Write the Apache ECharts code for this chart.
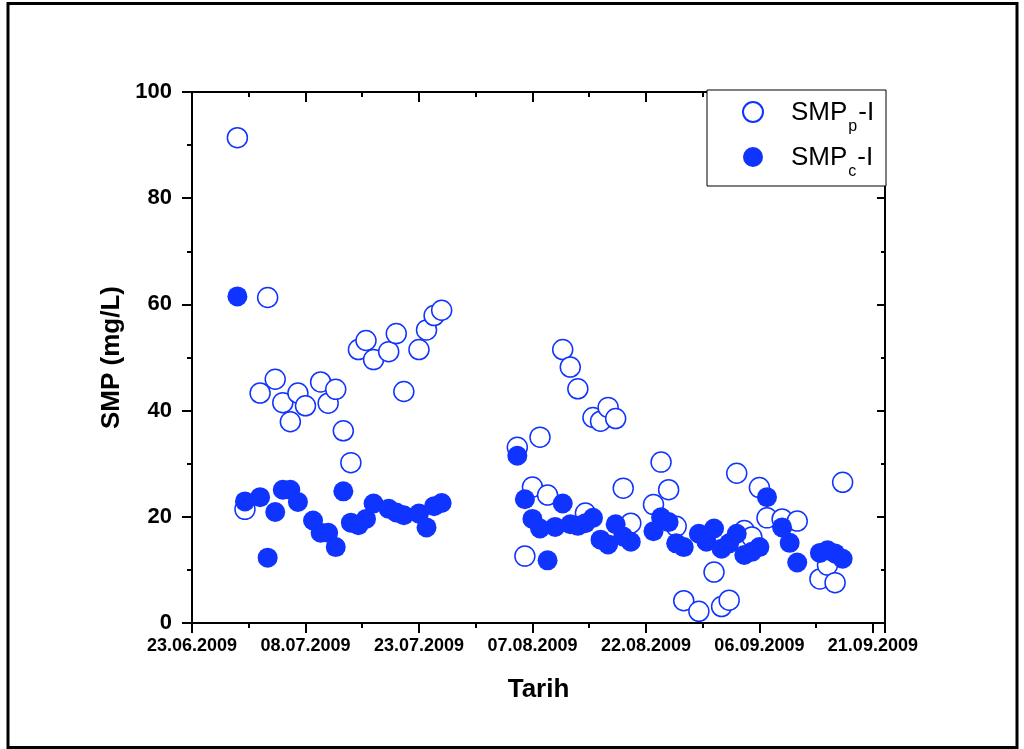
<!DOCTYPE html>
<html>
<head>
<meta charset="utf-8">
<script src="https://cdn.jsdelivr.net/npm/echarts@6/dist/echarts.min.js"></script>
<style>
html,body{margin:0;padding:0;background:#fff;}
#chart{width:1024px;height:749px;}
</style>
</head>
<body>
<div id="chart"></div>
<script>
// ---- Data ----
const startDate = '2009-06-23';
const xTickLabelsStep = 15; // days between date ticks
const seriesNames = ['SMPp-I', 'SMPc-I'];

const smpPDates = ['2009-06-29','2009-06-30','2009-07-02','2009-07-03','2009-07-04','2009-07-05','2009-07-06','2009-07-07','2009-07-08',
  '2009-07-10','2009-07-11','2009-07-12','2009-07-13','2009-07-14','2009-07-15','2009-07-16','2009-07-17','2009-07-19','2009-07-20',
  '2009-07-21','2009-07-23','2009-07-24','2009-07-25','2009-07-26',
  '2009-08-05','2009-08-06','2009-08-07','2009-08-08','2009-08-09','2009-08-11','2009-08-12','2009-08-13','2009-08-14','2009-08-15',
  '2009-08-16','2009-08-17','2009-08-18','2009-08-19','2009-08-20','2009-08-23','2009-08-24','2009-08-25','2009-08-26','2009-08-27',
  '2009-08-29','2009-08-31','2009-09-01','2009-09-02','2009-09-03','2009-09-04','2009-09-05','2009-09-06','2009-09-07','2009-09-09',
  '2009-09-11','2009-09-14','2009-09-15','2009-09-16','2009-09-17'];
const smpPValues = [91.4,21.4,43.3,61.3,45.9,41.5,37.9,43.3,40.9,
  45.4,41.4,44.0,36.2,30.2,51.5,53.2,49.6,51.1,54.5,
  43.6,51.5,55.2,57.9,58.9,
  33.1,12.6,25.6,35.0,24.1,51.5,48.2,44.1,20.7,38.7,
  38.0,40.6,38.5,25.4,18.8,22.3,30.3,25.1,18.2,4.2,
  2.2,9.6,3.1,4.3,28.2,17.4,16.2,25.5,19.8,19.6,
  19.2,8.3,10.9,7.6,26.5];

const smpCDates = ['2009-06-29','2009-06-30','2009-07-02','2009-07-03','2009-07-04','2009-07-05','2009-07-06','2009-07-07',
  '2009-07-09','2009-07-10','2009-07-11','2009-07-12','2009-07-13','2009-07-14','2009-07-15','2009-07-16','2009-07-17',
  '2009-07-19','2009-07-20','2009-07-21','2009-07-23','2009-07-24','2009-07-25','2009-07-26',
  '2009-08-05','2009-08-06','2009-08-07','2009-08-08','2009-08-09','2009-08-10','2009-08-11','2009-08-12','2009-08-13','2009-08-14',
  '2009-08-15','2009-08-16','2009-08-17','2009-08-18','2009-08-19','2009-08-20','2009-08-23','2009-08-24','2009-08-25','2009-08-26',
  '2009-08-27','2009-08-29','2009-08-30','2009-08-31','2009-09-01','2009-09-02','2009-09-03','2009-09-04','2009-09-05','2009-09-06',
  '2009-09-07','2009-09-09','2009-09-10','2009-09-11','2009-09-14','2009-09-15','2009-09-16','2009-09-17'];
const smpCValues = [61.5,22.9,23.7,12.3,20.9,25.1,25.1,22.8,
  19.3,17.0,17.0,14.3,24.8,18.9,18.4,19.6,22.5,
  21.5,20.8,20.3,20.6,18.0,22.0,22.6,
  31.5,23.3,19.6,17.8,11.8,18.1,22.5,18.6,18.3,18.8,
  19.8,15.7,14.8,18.6,16.3,15.3,17.3,19.9,19.0,15.0,
  14.3,16.8,15.3,17.8,14.0,15.0,16.8,12.8,13.4,14.3,
  23.7,18.0,15.1,11.4,13.2,13.7,13.1,12.1];

const yTicks = [0, 20, 40, 60, 80, 100];

// ---- Helpers ----
const DAY = 86400000;
const t0 = Date.parse(startDate + 'T00:00:00Z');
function dayOffset(s){ return Math.round((Date.parse(s + 'T00:00:00Z') - t0) / DAY); }
function fmtDay(d){
  const dt = new Date(t0 + Math.round(d) * DAY);
  const p = n => (n < 10 ? '0' : '') + n;
  return p(dt.getUTCDate()) + '.' + p(dt.getUTCMonth() + 1) + '.' + dt.getUTCFullYear();
}
const pData = smpPDates.map((d, i) => [dayOffset(d), smpPValues[i]]);
const cData = smpCDates.map((d, i) => [dayOffset(d), smpCValues[i]]);

const FONT = 'Liberation Sans, Arial, sans-serif';
const BLUE = '#1034ff';
const xMax = 91.6;

const chart = echarts.init(document.getElementById('chart'), null, {renderer: 'canvas'});
const commonX = {
  type: 'value', min: 0, max: xMax, interval: xTickLabelsStep,
  splitLine: {show: false},
  axisLine: {show: true, onZero: false, lineStyle: {color: '#000', width: 2}},
  minorTick: {show: true, splitNumber: 2, length: 5, lineStyle: {color: '#000', width: 2}},
};
const commonY = {
  type: 'value', min: yTicks[0], max: yTicks[yTicks.length - 1], interval: yTicks[1] - yTicks[0],
  splitLine: {show: false},
  axisLine: {show: true, onZero: false, lineStyle: {color: '#000', width: 2}},
  minorTick: {show: true, splitNumber: 2, length: 5, lineStyle: {color: '#000', width: 2}},
};

chart.setOption({
  animation: false,
  backgroundColor: '#fff',
  grid: {left: 192, top: 92, right: 139, bottom: 126, containLabel: false},
  xAxis: [
    Object.assign({}, commonX, {
      position: 'bottom',
      axisTick: {show: true, inside: false, length: 10, lineStyle: {color: '#000', width: 2}},
      minorTick: {show: true, splitNumber: 2, length: 5, lineStyle: {color: '#000', width: 2}},
      axisLabel: {show: true, margin: 14, color: '#000', fontFamily: FONT, fontWeight: 'bold', fontSize: 18,
        showMaxLabel: false, formatter: v => (v % xTickLabelsStep === 0 ? fmtDay(v) : '')},
      name: 'Tarih', nameLocation: 'middle', nameGap: 54,
      nameTextStyle: {color: '#000', fontFamily: FONT, fontWeight: 'bold', fontSize: 26}
    }),
    Object.assign({}, commonX, {
      position: 'top',
      axisTick: {show: true, inside: true, length: 10, lineStyle: {color: '#000', width: 2}},
      minorTick: {show: true, splitNumber: 2, length: 5, lineStyle: {color: '#000', width: 2}},
      axisLabel: {show: false}
    })
  ],
  yAxis: [
    Object.assign({}, commonY, {
      position: 'left',
      axisTick: {show: true, inside: false, length: 10, lineStyle: {color: '#000', width: 2}},
      axisLabel: {show: true, margin: 20, color: '#000', fontFamily: FONT, fontWeight: 'bold', fontSize: 22},
      name: 'SMP (mg/L)', nameLocation: 'middle', nameGap: 56,
      nameTextStyle: {color: '#000', fontFamily: FONT, fontWeight: 'bold', fontSize: 26}
    }),
    Object.assign({}, commonY, {
      position: 'right',
      axisTick: {show: true, inside: true, length: 8, lineStyle: {color: '#000', width: 2}},
      minorTick: {show: true, inside: true, splitNumber: 2, length: 4, lineStyle: {color: '#000', width: 2}},
      axisLabel: {show: false}
    })
  ],
  legend: {
    show: true, selectedMode: false, orient: 'vertical',
    left: 742, top: 97, padding: 0, itemGap: 7,
    itemWidth: 20, itemHeight: 20, z: 20,
    data: seriesNames,
    formatter: function(name){
      const sub = name === 'SMPp-I' ? 'p' : 'c';
      return '{a1|SMP}{s|' + sub + '}{a|-I}';
    },
    textStyle: {
      color: '#000', fontFamily: FONT, fontSize: 26,
      rich: {
        a1: {fontFamily: FONT, fontSize: 26, color: '#000', lineHeight: 30, verticalAlign: 'top', padding: [3, 0, 0, 23]},
        a: {fontFamily: FONT, fontSize: 26, color: '#000', lineHeight: 30, verticalAlign: 'top', padding: [3, 0, 0, 0]},
        s: {fontFamily: FONT, fontSize: 16, color: '#000', lineHeight: 14, verticalAlign: 'top', padding: [22, 1, 0, 1]}
      }
    }
  },
  graphic: [
    {type: 'rect', z: 15, shape: {x: 707, y: 90, width: 179, height: 96},
      style: {fill: '#fff', stroke: '#000', lineWidth: 1}},
    {type: 'rect', z: 15, shape: {x: 8, y: 3.5, width: 1009, height: 744},
      style: {fill: 'none', stroke: '#000', lineWidth: 3}}
  ],
  series: [
    {
      name: seriesNames[0], type: 'scatter', xAxisIndex: 0, yAxisIndex: 0,
      symbol: 'circle', symbolSize: 20, data: pData, z: 2,
      itemStyle: {color: '#fff', borderColor: BLUE, borderWidth: 1.5, opacity: 1}
    },
    {
      name: seriesNames[1], type: 'scatter', xAxisIndex: 0, yAxisIndex: 0,
      symbol: 'circle', symbolSize: 20, data: cData, z: 3,
      itemStyle: {color: BLUE, borderColor: BLUE, borderWidth: 0, opacity: 1}
    }
  ]
});
</script>
</body>
</html>
